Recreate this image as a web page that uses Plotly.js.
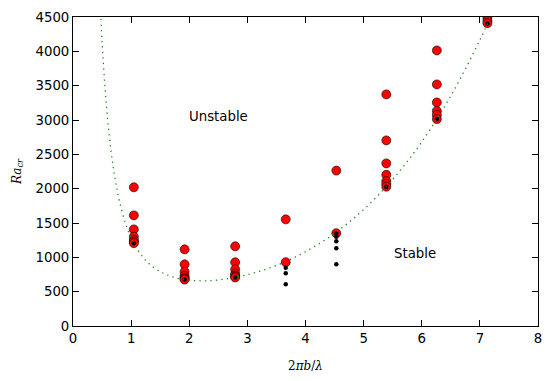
<!DOCTYPE html>
<html>
<head>
<meta charset="utf-8">
<script src="https://cdn.plot.ly/plotly-3.0.1.min.js"></script>
<style>html,body{margin:0;padding:0;background:#fff;}#chart{width:552px;height:381px;}</style>
</head>
<body>
<div id="chart"></div>
<script>
// Unstable runs (red circles)
const unstableX = [
  1.047, 1.047, 1.047, 1.047, 1.047, 1.047, 1.047,
  1.92, 1.92, 1.92, 1.92, 1.92, 1.92, 1.92,
  2.79, 2.79, 2.79, 2.79, 2.79, 2.79, 2.79,
  3.66, 3.66,
  4.53, 4.53,
  5.39, 5.39, 5.39, 5.39, 5.39, 5.39, 5.39,
  6.26, 6.26, 6.26, 6.26, 6.26, 6.26,
  7.13, 7.13, 7.13
];
const unstableY = [
  2020, 1611, 1407, 1300, 1252, 1228, 1206,
  1116, 898, 790, 730, 703, 689, 676,
  1160, 927, 825, 763, 735, 721, 707,
  1553, 930,
  2263, 1352,
  3373, 2703, 2368, 2202, 2110, 2070, 2029,
  4013, 3518, 3256, 3133, 3073, 3013,
  4490, 4445, 4410
];
// Stable / marginal runs (black dots)
const stableX = [1.047, 1.92, 2.79, 3.66, 3.66, 3.66, 4.53, 4.53, 4.53, 4.53, 4.53, 5.39, 6.26, 7.13];
const stableY = [1206, 676, 707, 850, 767, 607, 1349, 1300, 1233, 1131, 898, 2029, 3013, 4406];
// Marginal stability curve (green dotted)
const curveX = [0.48, 0.5, 0.55, 0.6, 0.65, 0.7, 0.75, 0.8, 0.9, 1.0, 1.2, 1.4, 1.6, 1.8, 2.0, 2.22, 2.5, 3.0, 3.5, 4.0, 4.5, 5.0, 5.5, 6.0, 6.5, 7.0, 7.17];
const curveY = [4472, 4145, 3479, 2973, 2580, 2269, 2018, 1814, 1504, 1284, 1005, 845, 750, 695, 667, 657, 670, 747, 883, 1082, 1349, 1696, 2135, 2681, 3351, 4164, 4476];
const xTicks = [0, 1, 2, 3, 4, 5, 6, 7, 8];
const yTicks = [0, 500, 1000, 1500, 2000, 2500, 3000, 3500, 4000, 4500];
const labels = [
  {text: 'Unstable', x: 2.51, y: 3050},
  {text: 'Stable', x: 5.89, y: 1050}
];

const traces = [
  {x: unstableX, y: unstableY, mode: 'markers', type: 'scatter',
   marker: {color: '#ff0000', size: 9, line: {color: '#000000', width: 0.6}}, hoverinfo: 'skip'},
  {x: stableX, y: stableY, mode: 'markers', type: 'scatter',
   marker: {color: '#000000', size: 4.5, line: {width: 0}}, hoverinfo: 'skip'},
  {x: curveX, y: curveY, mode: 'lines', type: 'scatter',
   line: {color: '#1a8a1a', width: 1.3, dash: '1.3px,4.2px', shape: 'spline'}, hoverinfo: 'skip'}
];

const tickFont = {family: 'DejaVu Sans', size: 13.3, color: '#000'};
const axisCommon = {
  showgrid: false, zeroline: false, showline: true, linecolor: '#000', linewidth: 1,
  mirror: 'ticks', ticks: 'inside', ticklen: 6, tickwidth: 1, tickcolor: '#000',
  tickfont: tickFont
};

const layout = {
  width: 552, height: 381,
  margin: {l: 73, r: 14, t: 17, b: 55},
  paper_bgcolor: '#fff', plot_bgcolor: '#fff',
  showlegend: false,
  xaxis: Object.assign({}, axisCommon, {
    range: [0, 8], tickvals: xTicks, ticktext: xTicks.map(String),
    title: {text: '2<i>πb</i>/<i>λ</i>', font: {family: 'DejaVu Serif', size: 12, color: '#000'}, standoff: 16}
  }),
  yaxis: Object.assign({}, axisCommon, {
    range: [0, 4500], tickvals: yTicks, ticktext: yTicks.map(String),
    title: {text: '<i>Ra</i><sub><i>cr</i></sub>', font: {family: 'DejaVu Serif', size: 12, color: '#000'}, standoff: 11}
  }),
  annotations: labels.map(l => ({
    text: l.text, x: l.x, y: l.y, xref: 'x', yref: 'y', showarrow: false,
    font: {family: 'DejaVu Sans', size: 13.3, color: '#000'}
  }))
};

Plotly.newPlot('chart', traces, layout, {staticPlot: true, displayModeBar: false});
</script>
</body>
</html>
